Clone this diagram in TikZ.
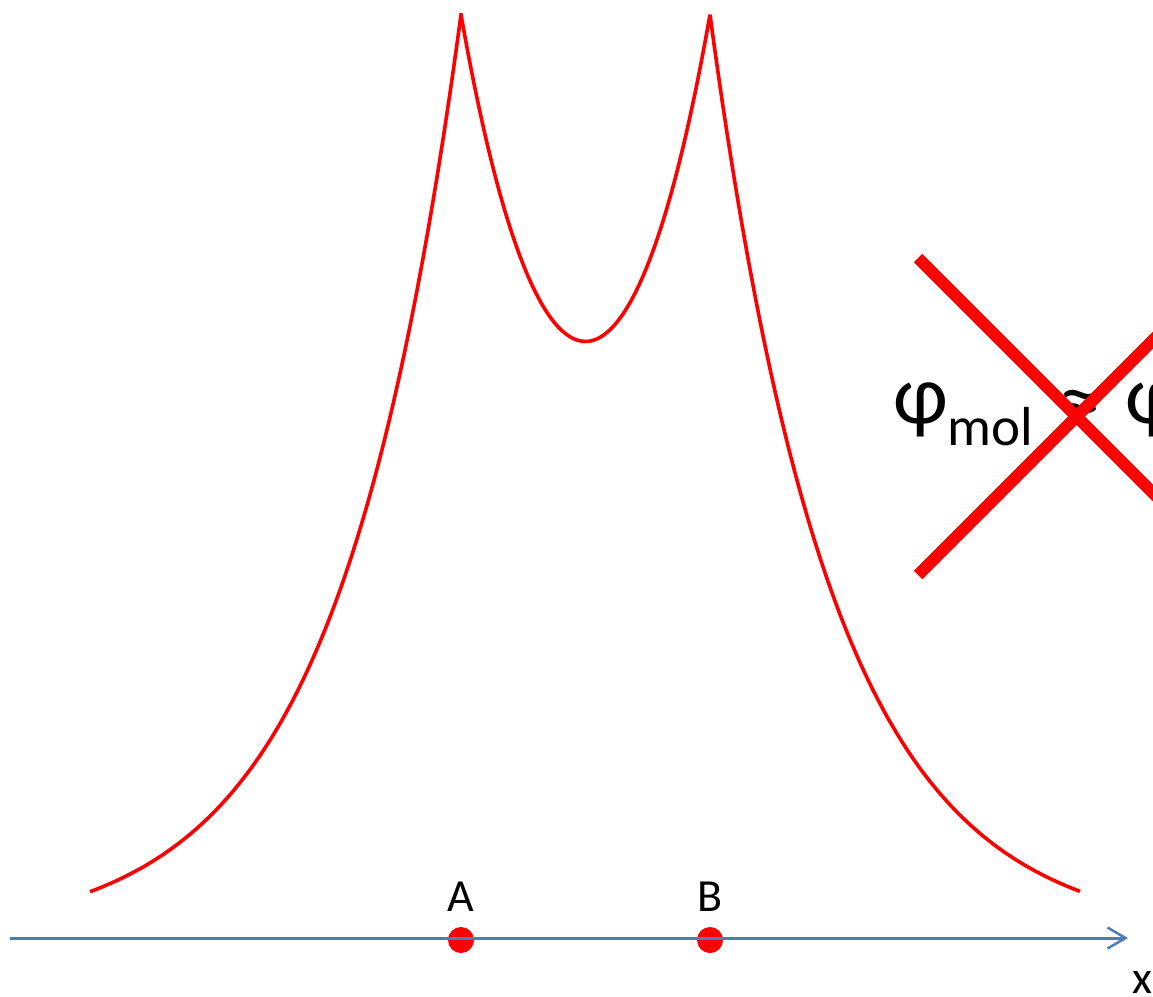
\documentclass[tikz,border=0pt]{standalone}
\usepackage{fontspec}
\setmainfont{Carlito}
\usetikzlibrary{arrows.meta}
\definecolor{axisblue}{RGB}{74,126,187}
\definecolor{pured}{RGB}{255,0,0}
\tikzset{
  curve/.style={draw=pured,line width=3.6pt,line join=miter},
  axisline/.style={draw=axisblue,line width=3pt,-{Straight Barb[length=18pt,width=21pt,line width=2.5pt]}},
  atomdot/.style={circle,fill=pured,minimum size=26pt,inner sep=0pt},
  atomlabel/.style={inner sep=0pt,font=\fontsize{46}{50}\selectfont},
  crossline/.style={draw=pured,line width=12pt,line cap=butt}
}
\begin{document}
\begin{tikzpicture}[x=1pt,y=-1pt]
\clip (0,0) rectangle (1153,996);
\useasboundingbox (0,0) rectangle (1153,996);
% density curve
\draw[curve] plot[domain=90:461,samples=150] (\x,{938-814*(exp(-(461-\x)/124)+exp(-(710-\x)/124))})
  -- plot[domain=461:710,samples=150] (\x,{938-814*(exp(-(\x-461)/124)+exp(-(710-\x)/124))})
  -- plot[domain=710:1080,samples=150] (\x,{938-814*(exp(-(\x-461)/124)+exp(-(\x-710)/124))});
% atoms
\node[atomdot] (dA) at (461,940) {};
\node[atomdot] (dB) at (710,940) {};
\node[atomlabel] (lA) at (461,897) {A};
\node[atomlabel] (lB) at (710,897) {B};
% axis
\coordinate (ax0) at (10,938);
\coordinate (ax1) at (1128,938);
\draw[axisline] (ax0) -- (ax1);
\node[atomlabel] (lx) at (1142,983) {x};
% formula
\node[inner sep=0pt,anchor=base west] (formula) at (893,423)
  {{\fontsize{84}{90}\selectfont φ}\raisebox{-22pt}{\fontsize{55}{60}\selectfont mol}\hspace{26pt}\raisebox{-5pt}{\fontsize{84}{90}\selectfont ≈}\hspace{24pt}{\fontsize{84}{90}\selectfont φ}};
% cross
\coordinate (c1) at (918,258);
\coordinate (c2) at (1235,575);
\coordinate (c3) at (918,575);
\coordinate (c4) at (1235,258);
\draw[crossline] (c1) -- (c2);
\draw[crossline] (c3) -- (c4);
\end{tikzpicture}
\end{document}
